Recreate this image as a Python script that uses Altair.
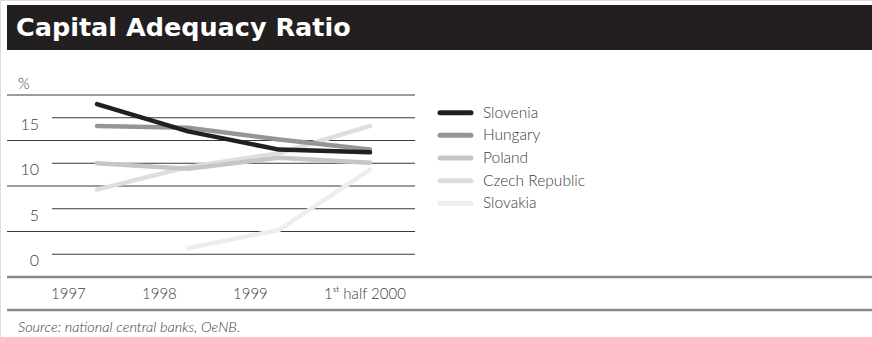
import altair as alt
import pandas as pd

# ---- data ----
periods = ["1997", "1998", "1999", "1st half 2000"]
period_labels = ["1997", "1998", "1999", "1ˢᵗ half 2000"]
countries = ["Slovenia", "Hungary", "Poland", "Czech Republic", "Slovakia"]
slovenia = [16.5, 13.5, 11.5, 11.2]
hungary = [14.1, 13.9, 12.6, 11.5]
poland = [10.0, 9.4, 10.6, 10.05]
czech = [7.1, 9.6, 11.1, 14.1]
slovakia = [None, 0.66, 2.67, 9.3]
colors = ["#231f20", "#959595", "#c6c6c6", "#dedede", "#ededed"]

labeled_ticks = [0, 5, 10, 15]
unlabeled_ticks = [2.5, 7.5, 12.5, 17.5]

title_text = "Capital Adequacy Ratio"
unit_text = "%"
source_text = "Source: national central banks, OeNB."

series = dict(zip(countries, [slovenia, hungary, poland, czech, slovakia]))
rows = []
for c in countries:
    for p, v in zip(periods, series[c]):
        if v is not None:
            rows.append({"country": c, "period": p, "value": v})
df = pd.DataFrame(rows)

FONT = "Lato"
TXT = "#3c3c3c"

yscale = alt.Scale(domain=[-2.5, 17.5], range=[277.0, 95.0])
xscale = alt.Scale(type="point", domain=periods, range=[97, 370], padding=0)
cscale = alt.Scale(domain=countries, range=colors)

one = pd.DataFrame({"k": [0]})

# title bar
bar = alt.Chart(one).mark_rect(color="#231f20").encode(
    x=alt.value(7), x2=alt.value(872), y=alt.value(5), y2=alt.value(50)
)
title = alt.Chart(pd.DataFrame({"t": [title_text]})).mark_text(
    font="DejaVu Sans", fontWeight="bold", fontSize=25.5, color="white",
    align="left", baseline="alphabetic"
).encode(x=alt.value(16), y=alt.value(36), text="t:N")

# grid lines
short_rules = alt.Chart(pd.DataFrame({"v": labeled_ticks})).mark_rule(
    color="#3a3a3a", strokeWidth=1
).encode(y=alt.Y("v:Q", scale=yscale, axis=None), x=alt.value(52), x2=alt.value(415))
long_rules = alt.Chart(pd.DataFrame({"v": unlabeled_ticks})).mark_rule(
    color="#3a3a3a", strokeWidth=1
).encode(y=alt.Y("v:Q", scale=yscale, axis=None), x=alt.value(7), x2=alt.value(415))
tick_labels = alt.Chart(pd.DataFrame({"v": labeled_ticks})).mark_text(
    font=FONT, fontWeight=300, fontSize=16, color=TXT, align="right",
    baseline="middle", dy=7
).encode(y=alt.Y("v:Q", scale=yscale, axis=None), x=alt.value(39), text="v:Q")
unit = alt.Chart(pd.DataFrame({"t": [unit_text]})).mark_text(
    font=FONT, fontWeight=300, fontSize=15, color=TXT, align="left", baseline="middle"
).encode(x=alt.value(18), y=alt.value(84), text="t:N")

# separators
sep1 = alt.Chart(one).mark_rule(color="#8a8a8a", strokeWidth=2.5).encode(
    x=alt.value(7), x2=alt.value(872), y=alt.value(277)
)
sep2 = alt.Chart(one).mark_rule(color="#8a8a8a", strokeWidth=2.5).encode(
    x=alt.value(7), x2=alt.value(872), y=alt.value(310)
)

# x labels
xlab = alt.Chart(pd.DataFrame({"period": periods, "lab": period_labels})).mark_text(
    font=FONT, fontWeight=300, fontSize=15, color=TXT, align="left",
    baseline="middle", dx=-46
).encode(x=alt.X("period:N", scale=xscale, axis=None), y=alt.value(294), text="lab:N")

# data lines (darkest on top)
line_layers = []
for c in reversed(countries):
    line_layers.append(
        alt.Chart(df[df.country == c]).mark_line(
            strokeWidth=4.5, strokeCap="round", strokeJoin="round"
        ).encode(
            x=alt.X("period:N", scale=xscale, axis=None, sort=periods),
            y=alt.Y("value:Q", scale=yscale, axis=None),
            color=alt.Color("country:N", scale=cscale, legend=None),
        )
    )

# legend
leg_df = pd.DataFrame({"country": countries})
lscale = alt.Scale(type="point", domain=countries, range=[112.7, 203.3], padding=0)
leg_lines = alt.Chart(leg_df).mark_rule(strokeWidth=5, strokeCap="round").encode(
    y=alt.Y("country:N", scale=lscale, axis=None),
    x=alt.value(440), x2=alt.value(471),
    color=alt.Color("country:N", scale=cscale, legend=None),
)
leg_text = alt.Chart(leg_df).mark_text(
    font=FONT, fontWeight=300, fontSize=15.5, color=TXT, align="left", baseline="middle"
).encode(
    y=alt.Y("country:N", scale=lscale, axis=None),
    x=alt.value(483), text="country:N",
)
legend = alt.layer(leg_lines, leg_text)

source = alt.Chart(pd.DataFrame({"t": [source_text]})).mark_text(
    font=FONT, fontStyle="italic", fontWeight=300, fontSize=14.5, color=TXT,
    align="left", baseline="middle"
).encode(x=alt.value(18), y=alt.value(328), text="t:N")

main = alt.layer(
    bar, title, long_rules, short_rules, tick_labels, unit, sep1, sep2, xlab,
    *line_layers, source
)

chart = alt.layer(main, legend).resolve_scale(y="independent").properties(
    width=872, height=337,
    autosize=alt.AutoSizeParams(type="none"),
    padding=0,
).configure_view(stroke=None).configure(background="white")

chart.save("out.html", embed_options={"renderer": "svg", "actions": False})
